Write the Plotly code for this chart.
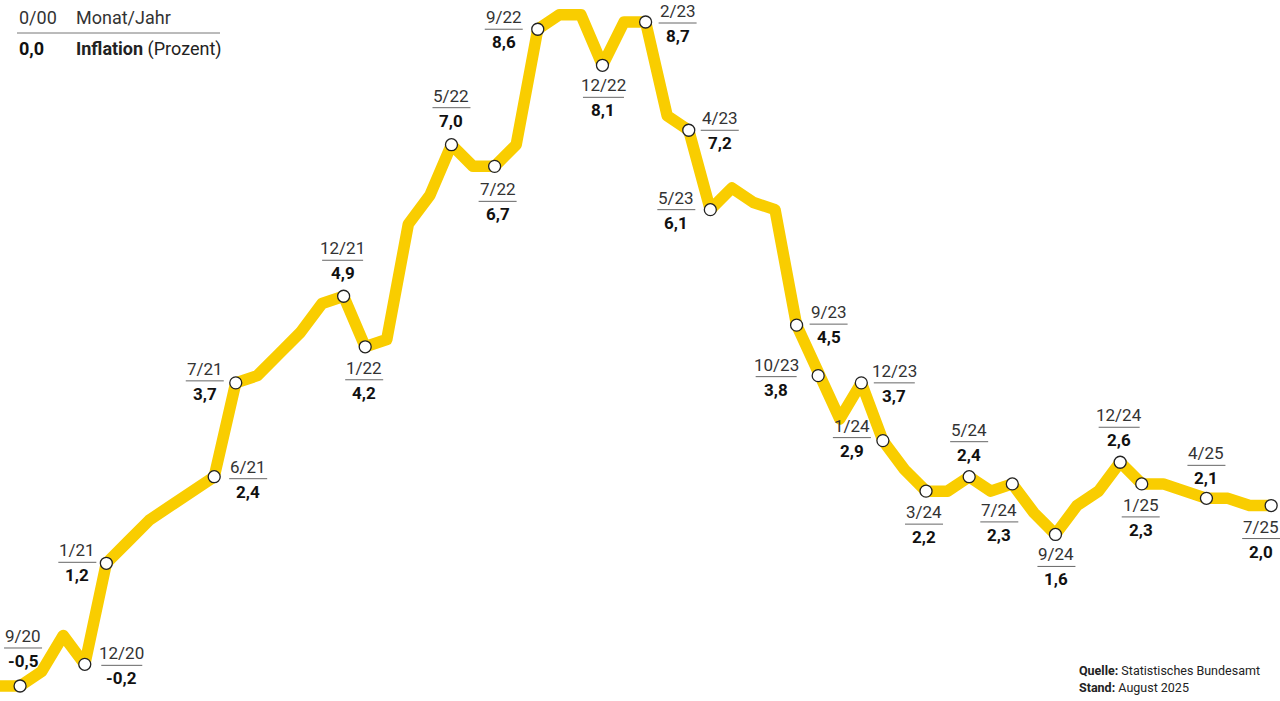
import plotly.graph_objects as go

# ---- data ----
months = [
    "8/20", "9/20", "10/20", "11/20", "12/20",
    "1/21", "2/21", "3/21", "4/21", "5/21", "6/21", "7/21", "8/21", "9/21", "10/21", "11/21", "12/21",
    "1/22", "2/22", "3/22", "4/22", "5/22", "6/22", "7/22", "8/22", "9/22", "10/22", "11/22", "12/22",
    "1/23", "2/23", "3/23", "4/23", "5/23", "6/23", "7/23", "8/23", "9/23", "10/23", "11/23", "12/23",
    "1/24", "2/24", "3/24", "4/24", "5/24", "6/24", "7/24", "8/24", "9/24", "10/24", "11/24", "12/24",
    "1/25", "2/25", "3/25", "4/25", "5/25", "6/25", "7/25",
]
inflation = [
    -0.5, -0.5, -0.3, 0.2, -0.2,
    1.2, 1.5, 1.8, 2.0, 2.2, 2.4, 3.7, 3.8, 4.1, 4.4, 4.8, 4.9,
    4.2, 4.3, 5.9, 6.3, 7.0, 6.7, 6.7, 7.0, 8.6, 8.8, 8.8, 8.1,
    8.7, 8.7, 7.4, 7.2, 6.1, 6.4, 6.2, 6.1, 4.5, 3.8, 3.2, 3.7,
    2.9, 2.5, 2.2, 2.2, 2.4, 2.2, 2.3, 1.9, 1.6, 2.0, 2.2, 2.6,
    2.3, 2.3, 2.2, 2.1, 2.1, 2.0, 2.0,
]
labeled_months = [
    "9/20", "12/20", "1/21", "6/21", "7/21", "12/21", "1/22", "5/22", "7/22", "9/22",
    "12/22", "2/23", "4/23", "5/23", "9/23", "10/23", "12/23", "1/24", "3/24", "5/24",
    "7/24", "9/24", "12/24", "1/25", "4/25", "7/25",
]

# ---- label placement (style): pixel offset of label's rule centre from marker ----
placement = {
    "9/20": (3, -38), "12/20": (37, 1), "1/21": (-29, -1), "6/21": (34, 2),
    "7/21": (-31, -2), "12/21": (-1, -36), "1/22": (-1, 33), "5/22": (0, -37),
    "7/22": (3, 35), "9/22": (-34, 0), "12/22": (1, 32), "2/23": (32, 1),
    "4/23": (31, 0), "5/23": (-34, 0), "9/23": (32, -1), "10/23": (-42, 1),
    "12/23": (33, 0), "1/24": (-31, -3), "3/24": (-2, 33), "5/24": (0, -35),
    "7/24": (-13, 38), "9/24": (1, 32), "12/24": (-1, -35), "1/25": (-1, 33),
    "4/25": (0, -33), "7/25": (-10, 33),
}

LINE_COLOR = "#F9CD00"
FONT = "Roboto, 'Noto Sans', sans-serif"

idx = list(range(len(months)))

fig = go.Figure()
fig.add_trace(go.Scatter(
    x=idx, y=inflation, mode="lines",
    line=dict(color=LINE_COLOR, width=11.5),
    hoverinfo="skip", showlegend=False,
))

lab_x = [months.index(m) for m in labeled_months]
lab_y = [inflation[i] for i in lab_x]
fig.add_trace(go.Scatter(
    x=lab_x, y=lab_y, mode="markers",
    marker=dict(size=12, color="white", line=dict(color="#222222", width=1.3)),
    hoverinfo="skip", showlegend=False, cliponaxis=False,
))

def fmt(v):
    return f"{v:.1f}".replace(".", ",")

annotations = []
shapes = []
for m, xi, yv in zip(labeled_months, lab_x, lab_y):
    dx, dy = placement[m]
    w = 38 if len(m) <= 4 else 41
    shapes.append(dict(
        type="line", xref="x", yref="y", xsizemode="pixel", ysizemode="pixel",
        xanchor=xi, yanchor=yv, x0=dx - w / 2, x1=dx + w / 2, y0=-dy, y1=-dy,
        line=dict(color="#666666", width=1),
    ))
    annotations.append(dict(
        x=xi, y=yv, xref="x", yref="y", text=m, showarrow=False,
        xanchor="center", yanchor="middle", xshift=dx, yshift=-(dy - 12),
        font=dict(family=FONT, size=17, color="#333333"),
    ))
    annotations.append(dict(
        x=xi, y=yv, xref="x", yref="y", text=f"<b>{fmt(yv)}</b>", showarrow=False,
        xanchor="center", yanchor="middle", xshift=dx, yshift=-(dy + 13),
        font=dict(family=FONT, size=17, color="#111111"),
    ))

W, H = 1280, 701

def px(x):
    return x / W

def py(y):
    return 1 - y / H

# legend key top-left
annotations += [
    dict(x=px(17), y=py(18), xref="paper", yref="paper", text="0/00", showarrow=False,
         xanchor="left", yanchor="middle", font=dict(family=FONT, size=18, color="#333333")),
    dict(x=px(74), y=py(18), xref="paper", yref="paper", text="Monat/Jahr", showarrow=False,
         xanchor="left", yanchor="middle", font=dict(family=FONT, size=18, color="#333333")),
    dict(x=px(17), y=py(49), xref="paper", yref="paper", text="<b>0,0</b>", showarrow=False,
         xanchor="left", yanchor="middle", font=dict(family=FONT, size=18, color="#111111")),
    dict(x=px(74), y=py(49), xref="paper", yref="paper", text="<b>Inflation</b> (Prozent)",
         showarrow=False, xanchor="left", yanchor="middle",
         font=dict(family=FONT, size=18, color="#222222")),
    dict(x=px(1077), y=py(670), xref="paper", yref="paper",
         text="<b>Quelle:</b> Statistisches Bundesamt", showarrow=False,
         xanchor="left", yanchor="middle", font=dict(family=FONT, size=12.5, color="#222222")),
    dict(x=px(1077), y=py(687), xref="paper", yref="paper",
         text="<b>Stand:</b> August 2025", showarrow=False,
         xanchor="left", yanchor="middle", font=dict(family=FONT, size=12.5, color="#222222")),
]
shapes.append(dict(type="line", xref="paper", yref="paper", x0=px(17), x1=px(220),
                   y0=py(33), y1=py(33), line=dict(color="#777777", width=1)))

fig.update_layout(
    width=W, height=H,
    margin=dict(l=0, r=0, t=0, b=0),
    paper_bgcolor="white", plot_bgcolor="white",
    xaxis=dict(range=[0.07, 59.41], visible=False, fixedrange=True),
    yaxis=dict(range=[-0.708, 9.005], visible=False, fixedrange=True),
    annotations=annotations, shapes=shapes,
    showlegend=False,
)

fig.write_html(
    "out.html",
    config={"displayModeBar": False},
    post_script=(
        "document.body.style.margin='0';document.body.style.overflow='hidden';"
        "document.querySelectorAll('path.js-line').forEach(function(p){"
        "p.style.strokeLinejoin='round';});"
    ),
)
